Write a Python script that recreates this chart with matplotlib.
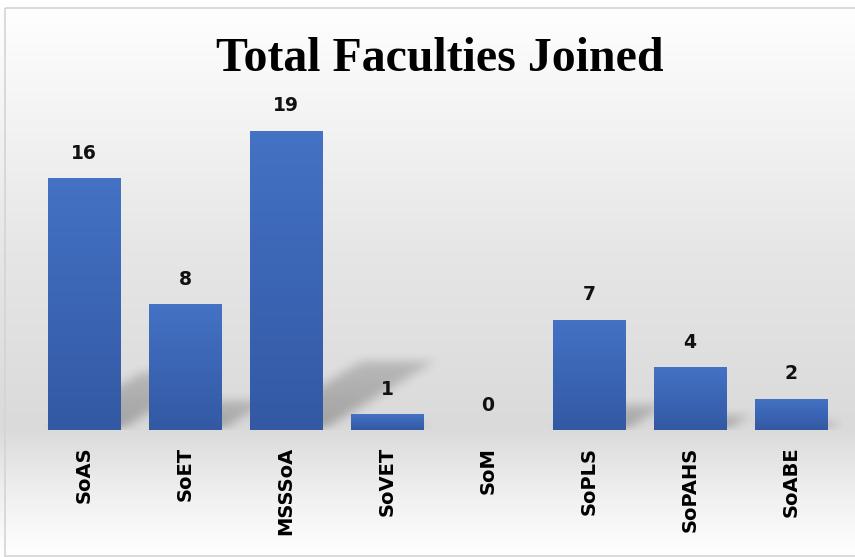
import numpy as np
import matplotlib
matplotlib.use('Agg')
import matplotlib.pyplot as plt
from matplotlib.path import Path
from matplotlib.colors import LinearSegmentedColormap
from matplotlib.patches import Rectangle

schools = ['SoAS', 'SoET', 'MSSSoA', 'SoVET', 'SoM', 'SoPLS', 'SoPAHS', 'SoABE']
joined = [16, 8, 19, 1, 0, 7, 4, 2]
title = 'Total Faculties Joined'

BAR_W = 0.72
YMAX = 20

fig = plt.figure(figsize=(8.55, 5.57), dpi=100)

# background gradient (white -> grey near baseline -> white)
bg = fig.add_axes([0, 0, 1, 1], zorder=-10)
stops = [(0.0, '#ffffff'), (0.18, '#f5f5f5'), (0.45, '#e6e6e6'),
         (0.77, '#dadada'), (0.88, '#eeeeee'), (1.0, '#ffffff')]
bg_cmap = LinearSegmentedColormap.from_list('bg', stops)
grad = np.linspace(0, 1, 300).reshape(-1, 1)
bg.imshow(grad, cmap=bg_cmap, aspect='auto', extent=[0, 1, 1, 0], vmin=0, vmax=1)
bg.set_xlim(0, 1)
bg.set_ylim(1, 0)
bg.axis('off')
# frame
bg.add_patch(Rectangle((5 / 855, 8 / 557), 1, 548 / 557, fill=False,
                       ec='#d4d4d4', lw=1.2))

ax = fig.add_axes([33.5 / 855, 1 - 430 / 557, 808 / 855, 315 / 557])
ax.patch.set_alpha(0)
x = np.arange(len(schools))
ax.set_xlim(-0.5, len(schools) - 0.5)
ax.set_ylim(0, YMAX)

# perspective shadows, rasterised and softened with a box blur
nx, ny = 800, 320
gx = np.linspace(-0.5, len(schools) - 0.5, nx)
gy = np.linspace(0, YMAX, ny)
GX, GY = np.meshgrid(gx, gy)
pts = np.column_stack([GX.ravel(), GY.ravel()])
mask = np.zeros(GX.size)
for xi, h in zip(x, joined):
    if h == 0:
        continue
    x0, x1 = xi - BAR_W / 2, xi + BAR_W / 2
    dx, dy = 0.058 * h, 0.23 * h
    poly = Path([(x0, 0), (x1, 0), (x1 + dx, dy), (x0 + dx, dy), (x0, 0)])
    inside = poly.contains_points(pts)
    fade = 1 - 0.35 * np.clip(GY.ravel() / max(dy, 1e-6), 0, 1)
    mask = np.maximum(mask, inside * fade)
mask = mask.reshape(ny, nx)


def box_blur(a, r, axis):
    k = np.ones(2 * r + 1) / (2 * r + 1)
    return np.apply_along_axis(lambda v: np.convolve(v, k, mode='same'), axis, a)


for _ in range(3):
    mask = box_blur(mask, 5, 1)
    mask = box_blur(mask, 4, 0)
shadow = np.zeros((ny, nx, 4))
shadow[..., 3] = mask * 0.26
ax.imshow(shadow, origin='lower', aspect='auto', zorder=1,
          extent=[gx[0], gx[-1], 0, YMAX], interpolation='bilinear')

# bars with vertical gradient
bar_cmap = LinearSegmentedColormap.from_list('bar', ['#3359a3', '#3b65b5', '#4472c4'])
bars = ax.bar(x, joined, width=BAR_W, color='none', zorder=2)
for b, h in zip(bars, joined):
    if h == 0:
        continue
    im = ax.imshow(np.linspace(0, 1, 100).reshape(-1, 1), cmap=bar_cmap,
                   origin='lower', aspect='auto', zorder=2,
                   extent=[b.get_x(), b.get_x() + b.get_width(), 0, h])
    im.set_clip_path(b)

for xi, h in zip(x, joined):
    ax.annotate(str(h), (xi, h), xytext=(0, 11), textcoords='offset points',
                ha='center', va='bottom', fontsize=13.5, fontweight='bold',
                family='DejaVu Sans', color='#111111')

ax.set_xticks(x)
ax.set_xticklabels(schools, rotation=90, fontsize=14, fontweight='bold',
                   family='DejaVu Sans', va='top')
ax.tick_params(axis='x', length=0, pad=12)
ax.set_yticks([])
for s in ax.spines.values():
    s.set_visible(False)

fig.text(440 / 855, 1 - 59 / 557, title, ha='center', va='center',
         fontsize=34.5, fontweight='bold', family='Liberation Serif')

fig.savefig('out.png', dpi=100)
